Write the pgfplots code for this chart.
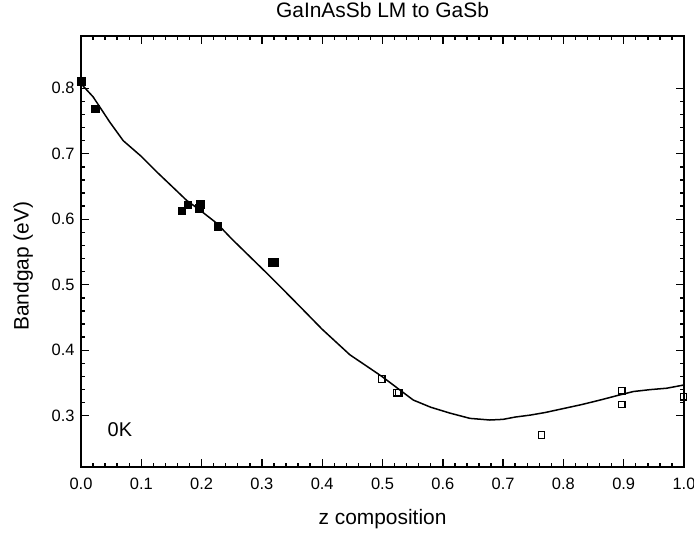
\documentclass[border=0pt]{standalone}
\usepackage{pgfplots}
\pgfplotsset{compat=1.18}
\usepackage{fontspec}
\setmainfont{Liberation Sans}
\begin{document}
\begin{tikzpicture}
\begin{axis}[
  name=ax,
  scale only axis,
  width=603bp, height=431.6bp,
  xmin=0, xmax=1.0, ymin=0.2213, ymax=0.8803,
  xtick={0,0.1,...,1.0},
  ytick={0.3,0.4,0.5,0.6,0.7,0.8},
  minor x tick num=4, minor y tick num=4,
  tick align=inside,
  major tick length=8bp, minor tick length=4.5bp,
  axis line style={line width=1.8bp},
  every tick/.style={line width=1.4bp, black},
  /pgf/number format/assume math mode=true,
  /pgf/number format/.cd, fixed, fixed zerofill, precision=1, /pgfplots/.cd,
  xticklabel style={font=\fontsize{16.5}{18}\selectfont, anchor=base, yshift=-21.7bp},
  yticklabel style={font=\fontsize{16.5}{18}\selectfont, xshift=-3bp},
  title={GaInAsSb LM to GaSb},
  title style={font=\fontsize{21}{24}\selectfont, at={(axis description cs:0.5,1)}, anchor=base, yshift=12bp},
  xlabel={z composition},
  xlabel style={font=\fontsize{21}{24}\selectfont, at={(axis description cs:0.5,0)}, anchor=base, yshift=-56.7bp},
  ylabel={Bandgap (eV)},
  ylabel style={font=\fontsize{21}{24}\selectfont, at={(axis description cs:-0.096,0.466)}, anchor=center},
]
\addplot[black, line width=1.5bp, no marks] coordinates {
(0,0.807) (0.02,0.787) (0.048,0.748) (0.07,0.720) (0.1,0.696) (0.126,0.672)
(0.150,0.651) (0.175,0.629) (0.2,0.612) (0.225,0.594) (0.25,0.570) (0.28,0.543)
(0.31,0.516) (0.336,0.492) (0.366,0.464) (0.40,0.432) (0.446,0.393) (0.475,0.375)
(0.499,0.360) (0.525,0.342) (0.551,0.324) (0.58,0.313) (0.612,0.304) (0.645,0.296)
(0.678,0.2935) (0.700,0.2945) (0.72,0.298) (0.745,0.301) (0.77,0.305) (0.80,0.311)
(0.83,0.317) (0.861,0.324) (0.89,0.331) (0.916,0.337) (0.945,0.340) (0.971,0.342)
(1.0,0.347)
};
\addplot[only marks, mark=square*, mark size=3.8bp, black] coordinates {
(0,0.811) (0.024,0.769) (0.167,0.613) (0.177,0.622) (0.196,0.617) (0.198,0.623)
(0.227,0.589) (0.316,0.534) (0.320,0.534)
};
\addplot[only marks, mark=square, mark size=3.2bp, black, mark options={line width=1.2bp}] coordinates {
(0.499,0.356) (0.524,0.335) (0.527,0.335) (0.764,0.2705) (0.897,0.338) (0.897,0.317) (0.999,0.329)
};
\node[anchor=base west, font=\fontsize{20}{22}\selectfont, inner sep=0pt] at (axis cs:0.044,0.268) {0K};
\end{axis}
\pgfresetboundingbox
\path ([xshift=-81bp,yshift=-67.7bp]ax.south west) rectangle ([xshift=10bp,yshift=35.7bp]ax.north east);
\end{tikzpicture}
\end{document}
